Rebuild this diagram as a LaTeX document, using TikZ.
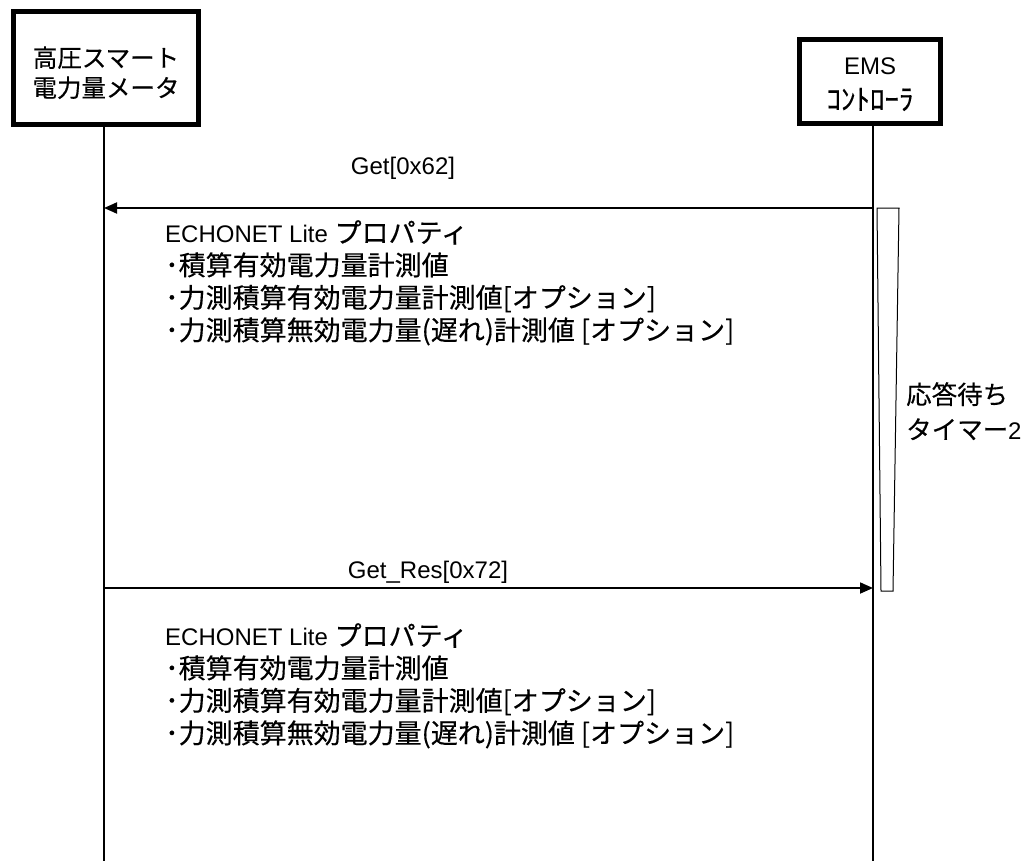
\documentclass[tikz,border=0pt]{standalone}
\usepackage{fontspec}
\setmainfont{Liberation Sans}
\newfontfamily\jp[FakeBold=0.3]{Noto Sans CJK JP}
\newcommand\jpbody{\jp\fontsize{27}{32.5}\selectfont}
\usetikzlibrary{arrows.meta}

\begin{document}
\begin{tikzpicture}[x=1pt, y=-1pt, font=\fontsize{24}{32.5}\selectfont,
    actor/.style={draw, line width=5pt, align=center, inner sep=0pt},
    msg/.style={line width=1.8pt, -{Triangle[length=13pt, width=11pt]}},
    note/.style={align=left, inner sep=0pt, anchor=north west}]
      \useasboundingbox (0,0) rectangle (1022,861);

      \node[actor, minimum width=185pt, minimum height=113pt, font=\jp\fontsize{24.5}{30}\selectfont]  (M)  at (106, 68)  {\rule{0pt}{30pt}高圧スマート\\電力量メータ};
      \node[actor, minimum width=141pt, minimum height=84pt, font=\fontsize{24}{35}\selectfont]        (E)  at (870, 81.5) {\rule{0pt}{23pt}EMS\\{\jp\fontsize{29}{29}\selectfont ｺﾝﾄﾛｰﾗ}};

      \coordinate (Mend) at (104, 861);
      \coordinate (Eend) at (873, 861);
      \coordinate (E1)   at (873, 208);
      \coordinate (M1)   at (104, 208);
      \coordinate (M2)   at (104, 588);
      \coordinate (E2)   at (873, 588);

      \draw[line width=1.2pt] (M.south -| Mend) -- (Mend);
      \draw[line width=1.2pt] (E.south -| Eend) -- (Eend);

      \draw[line width=1pt] (877, 208) -- (899, 208) -- (893, 591) -- (881, 591) -- cycle;

      \draw[msg] (E1) -- (M1);
      \draw[msg] (M2) -- (E2);

      \node (G)  at (403, 168) {Get[0x62]};
      \node (GR) at (428, 572) {Get\_Res[0x72]};

      \node[note] (P1) at (165, 220) {ECHONET Lite {\jpbody プロパティ}\\{\jpbody ･積算有効電力量計測値}\\{\jpbody ･力測積算有効電力量計測値[オプション]}\\{\jpbody ･力測積算無効電力量(遅れ)計測値 [オプション]}};
      \node[note] (P2) at (165, 623) {ECHONET Lite {\jpbody プロパティ}\\{\jpbody ･積算有効電力量計測値}\\{\jpbody ･力測積算有効電力量計測値[オプション]}\\{\jpbody ･力測積算無効電力量(遅れ)計測値 [オプション]}};

      \node[note, font=\jp\fontsize{25.5}{35}\selectfont] (T) at (906, 382) {応答待ち\\タイマー{\normalfont\fontsize{24}{35}\selectfont 2}};
\end{tikzpicture}
\end{document}
